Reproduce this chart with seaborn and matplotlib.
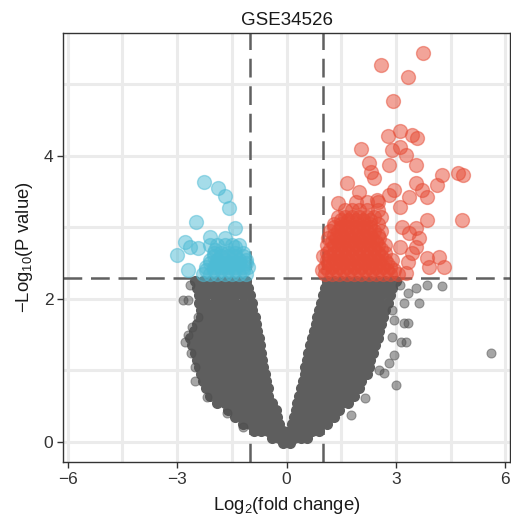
import numpy as np
import pandas as pd
import seaborn as sns
import matplotlib.pyplot as plt
from matplotlib.ticker import MultipleLocator

# --- data: log2 fold change (x) and -log10 p (y) ---
# non-significant cloud, one list of x positions per -log10(p) level
ns_levels = [-0.02, 0.05, 0.15, 0.25, 0.35, 0.45, 0.55, 0.65, 0.75, 0.85, 0.95, 1.05, 1.15,
             1.25, 1.35, 1.45, 1.55, 1.65, 1.75, 1.85, 1.95, 2.05, 2.15, 2.25]
ns_rows = [
    [-0.1, 0.1],
    [-0.4, -0.2, 0.0, 0.2, 0.4, 0.55],
    [-0.9, -0.7, -0.5, -0.3, -0.1, 0.1, 0.3, 0.5, 0.7, 0.9],
    [-1.2, -1.0, -0.8, -0.6, -0.4, -0.2, 0.15, 0.35, 0.55, 0.75, 0.95, 1.1],
    [-1.4, -1.2, -1.0, -0.8, -0.6, -0.4, -0.25, 0.2, 0.4, 0.6, 0.8, 1.0, 1.2, 1.3],
    [-1.6, -1.4, -1.2, -1.0, -0.8, -0.6, -0.4, -0.3, 0.25, 0.45, 0.65, 0.85, 1.05, 1.25, 1.45],
    [-1.9, -1.7, -1.5, -1.3, -1.1, -0.9, -0.7, -0.5, -0.4, 0.3, 0.5, 0.7, 0.9, 1.1, 1.3, 1.5, 1.7],
    [-2.1, -1.9, -1.7, -1.5, -1.3, -1.1, -0.9, -0.7, -0.5, 0.35, 0.55, 0.75, 0.95, 1.15, 1.35, 1.55, 1.75, 1.85],
    [-2.2, -2.0, -1.8, -1.6, -1.4, -1.2, -1.0, -0.8, -0.6, -0.52, 0.4, 0.6, 0.8, 1.0, 1.2, 1.4, 1.6, 1.8, 2.0],
    [-2.3, -2.1, -1.9, -1.7, -1.5, -1.3, -1.1, -0.9, -0.7, -0.56, 0.45, 0.65, 0.85, 1.05, 1.25, 1.45, 1.65, 1.85, 2.05],
    [-2.35, -2.15, -1.95, -1.75, -1.55, -1.35, -1.15, -0.95, -0.75, -0.6, 0.5, 0.7, 0.9, 1.1, 1.3, 1.5, 1.7, 1.9, 2.1, 2.2],
    [-2.4, -2.2, -2.0, -1.8, -1.6, -1.4, -1.2, -1.0, -0.8, -0.65, 0.5, 0.7, 0.9, 1.1, 1.3, 1.5, 1.7, 1.9, 2.1, 2.25],
    [-2.45, -2.25, -2.05, -1.85, -1.65, -1.45, -1.25, -1.05, -0.85, -0.68, 0.55, 0.75, 0.95, 1.15, 1.35, 1.55, 1.75, 1.95, 2.15, 2.3],
    [-2.5, -2.3, -2.1, -1.9, -1.7, -1.5, -1.3, -1.1, -0.9, -0.7, 0.6, 0.8, 1.0, 1.2, 1.4, 1.6, 1.8, 2.0, 2.2, 2.38],
    [-2.6, -2.4, -2.2, -2.0, -1.8, -1.6, -1.4, -1.2, -1.0, -0.8, -0.72, 0.65, 0.85, 1.05, 1.25, 1.45, 1.65, 1.85, 2.05, 2.25, 2.42],
    [-2.65, -2.45, -2.25, -2.05, -1.85, -1.65, -1.45, -1.25, -1.05, -0.85, -0.76, 0.7, 0.9, 1.1, 1.3, 1.5, 1.7, 1.9, 2.1, 2.3, 2.5],
    [-2.55, -2.35, -2.15, -1.95, -1.75, -1.55, -1.35, -1.15, -0.95, -0.8, 0.75, 0.95, 1.15, 1.35, 1.55, 1.75, 1.95, 2.15, 2.35, 2.55],
    [-2.45, -2.25, -2.05, -1.85, -1.65, -1.45, -1.25, -1.05, -0.85, 0.8, 1.0, 1.2, 1.4, 1.6, 1.8, 2.0, 2.2, 2.4, 2.6],
    [-2.35, -2.15, -1.95, -1.75, -1.55, -1.35, -1.15, -0.95, -0.87, 0.85, 1.05, 1.25, 1.45, 1.65, 1.85, 2.05, 2.25, 2.45, 2.65],
    [-2.35, -2.15, -1.95, -1.75, -1.55, -1.35, -1.15, -0.95, 0.9, 1.1, 1.3, 1.5, 1.7, 1.9, 2.1, 2.3, 2.5, 2.7],
    [-2.4, -2.2, -2.0, -1.8, -1.6, -1.4, -1.2, -0.95, 0.95, 1.15, 1.35, 1.55, 1.75, 1.95, 2.15, 2.35, 2.55, 2.78],
    [-2.4, -2.2, -2.0, -1.8, -1.6, -1.4, -1.2, -1.0, 1.0, 1.2, 1.4, 1.6, 1.8, 2.0, 2.2, 2.4, 2.6, 2.85],
    [-2.45, -2.25, -2.05, -1.85, -1.65, -1.45, -1.25, -1.05, 1.05, 1.25, 1.45, 1.65, 1.85, 2.05, 2.25, 2.45, 2.65, 2.9],
    [-2.5, -2.3, -2.1, -1.9, -1.7, -1.5, -1.3, -1.1, 1.1, 1.3, 1.5, 1.7, 1.9, 2.1, 2.3, 2.5, 2.7, 2.9, 3.0],
]
# scattered non-significant genes at the rim of the cloud
ns_out_x = [-2.85, -2.71, -2.66, -2.79, -2.71, -2.6, -2.52, -2.44, -2.19, -1.64, -1.2,
            3.32, 3.64, 3.23, 3.32, 3.23, 3.29, 3.15, 2.96, 2.68, 3.01, 2.14, 1.78,
            2.9, 2.96, 2.9, 2.82, 2.55, 3.84, 4.27, 5.62, 3.1, 3.55, -2.62, -2.5]
ns_out_y = [1.99, 1.99, 2.2, 1.4, 1.5, 1.61, 1.05, 1.75, 0.63, 0.41, 0.21,
            2.08, 1.94, 1.94, 1.66, 1.66, 1.4, 1.4, 1.22, 0.96, 0.8, 0.61, 0.38,
            1.85, 1.71, 1.47, 1.1, 1.0, 2.2, 2.18, 1.24, 2.2, 2.15, 1.25, 0.85]

# up-regulated genes: dense block (two staggered layers) plus scattered ones
up_levels = [2.35, 2.40, 2.45, 2.50, 2.55, 2.60, 2.65, 2.70, 2.75, 2.80, 2.85, 2.90,
             2.95, 3.00, 3.05, 3.10, 3.15, 3.25, 3.35]
up_rows = [
    [1.05, 1.25, 1.45, 1.65, 1.85, 2.05, 2.25, 2.45, 2.65, 2.85, 3.05],
    [1.15, 1.35, 1.55, 1.75, 1.95, 2.15, 2.35, 2.55, 2.75, 2.95],
    [1.05, 1.25, 1.45, 1.65, 1.85, 2.05, 2.25, 2.45, 2.65, 2.85],
    [1.15, 1.35, 1.55, 1.75, 1.95, 2.15, 2.35, 2.55, 2.75],
    [1.1, 1.3, 1.5, 1.7, 1.9, 2.1, 2.3, 2.5, 2.7, 2.9],
    [1.2, 1.4, 1.6, 1.8, 2.0, 2.2, 2.4, 2.6],
    [1.1, 1.3, 1.5, 1.7, 1.9, 2.1, 2.3, 2.5, 2.7],
    [1.2, 1.4, 1.6, 1.8, 2.0, 2.2, 2.4, 2.6],
    [1.1, 1.3, 1.5, 1.7, 1.9, 2.1, 2.3, 2.5, 2.7],
    [1.25, 1.45, 1.65, 1.85, 2.05, 2.25, 2.45],
    [1.15, 1.35, 1.55, 1.75, 1.95, 2.15, 2.35, 2.55],
    [1.3, 1.5, 1.7, 1.9, 2.1, 2.3, 2.5],
    [1.2, 1.4, 1.6, 1.8, 2.0, 2.2, 2.4, 2.6],
    [1.3, 1.5, 1.7, 1.9, 2.1, 2.3],
    [1.3, 1.5, 1.7, 1.9, 2.1, 2.3, 2.5],
    [1.5, 1.7, 1.9, 2.1, 2.3],
    [1.4, 1.6, 1.8, 2.0, 2.2, 2.4, 2.6],
    [1.6, 1.8, 2.0, 2.2, 2.5],
    [1.9, 2.2, 2.5],
]
up_x = [3.75, 2.58, 3.34, 2.93, 2.79, 3.12, 3.45, 3.59, 2.05, 2.9, 3.1, 3.29, 2.27, 2.82,
        3.56, 2.33, 1.67, 2.41, 4.27, 4.71, 4.85, 4.14, 3.56, 3.73, 3.86, 1.42, 2.96, 3.37,
        4.82, 3.86, 3.56, 3.64, 3.56, 3.86, 4.19, 4.33, 3.92, 3.32, 3.29, 2.0, 2.47, 2.82,
        3.1, 3.18, 3.1, 3.45, 3.37, 0.98, 1.0]
up_y = [5.44, 5.27, 5.11, 4.77, 4.28, 4.35, 4.29, 4.25, 4.1, 4.08, 4.13, 4.01, 3.9, 3.87,
        3.87, 3.78, 3.62, 3.69, 3.73, 3.76, 3.73, 3.59, 3.62, 3.52, 3.43, 3.34, 3.52, 3.43,
        3.1, 3.1, 2.99, 2.85, 2.73, 2.57, 2.59, 2.45, 2.45, 2.52, 2.36, 3.5, 3.38, 3.45,
        3.29, 3.0, 2.73, 2.64, 2.92, 2.4, 2.6]

# down-regulated genes
down_levels = [2.35, 2.40, 2.45, 2.50, 2.55, 2.60, 2.65, 2.75]
down_rows = [
    [-2.3, -2.1, -1.9, -1.7, -1.5, -1.3, -1.1],
    [-2.2, -2.0, -1.8, -1.6, -1.4, -1.2],
    [-2.2, -2.0, -1.8, -1.6, -1.4, -1.2, -1.05],
    [-2.1, -1.9, -1.7, -1.5, -1.3, -1.1],
    [-2.1, -1.9, -1.7, -1.5, -1.3, -1.1],
    [-2.0, -1.8, -1.6, -1.4, -1.2],
    [-2.0, -1.8, -1.6, -1.4, -1.2],
    [-2.1, -1.9, -1.7, -1.5, -1.3],
]
down_x = [-2.25, -1.89, -1.7, -1.59, -2.47, -1.42, -2.79, -2.66, -3.01, -2.11, -1.7,
          -1.42, -2.71, -2.44, -1.97]
down_y = [3.64, 3.55, 3.44, 3.27, 3.08, 2.99, 2.79, 2.73, 2.62, 2.87, 2.85,
          2.73, 2.41, 2.71, 2.69]


def rows_to_frame(levels, rows, extra_x=(), extra_y=()):
    xs, ys = list(extra_x), list(extra_y)
    for lv, row in zip(levels, rows):
        xs += row
        ys += [lv] * len(row)
    return pd.DataFrame({'logFC': xs, 'logP': ys})


ns_body = rows_to_frame(ns_levels, ns_rows)
ns_out = pd.DataFrame({'logFC': ns_out_x, 'logP': ns_out_y})
up = rows_to_frame(up_levels, up_rows, up_x, up_y)
down = rows_to_frame(down_levels, down_rows, down_x, down_y)

GREY, RED, BLUE = '#4D4D4D', '#E64B35', '#4DBBD5'

sns.set_style('white')
plt.rcParams['font.family'] = ['Liberation Sans', 'DejaVu Sans']
plt.rcParams['mathtext.fontset'] = 'custom'
plt.rcParams['mathtext.rm'] = 'Liberation Sans'
plt.rcParams['mathtext.it'] = 'Liberation Sans:italic'

fig = plt.figure(figsize=(5.11, 5.23), dpi=100)
ax = fig.add_axes([63 / 511, 61 / 523, 447 / 511, 429 / 523])

# threshold lines (under the points)
dash = (0, (7.5, 3.5))
for xv in (-1, 1):
    ax.axvline(xv, color='#606060', lw=1.8, ls=dash, zorder=1.5)
ax.axhline(2.3, color='#606060', lw=1.8, ls=dash, zorder=1.5)

# the saturated core of the grey cloud, then its lighter rim
sns.scatterplot(data=ns_body, x='logFC', y='logP', color='#5E5E5E',
                s=64, linewidth=0, alpha=1.0, ax=ax, zorder=2)
sns.scatterplot(data=ns_out, x='logFC', y='logP', color=GREY, edgecolor=GREY,
                s=42, linewidth=0.8, alpha=0.5, ax=ax, zorder=2)
sns.scatterplot(data=up, x='logFC', y='logP', color=RED, edgecolor=RED,
                s=100, linewidth=1.0, alpha=0.5, ax=ax, zorder=3)
sns.scatterplot(data=down, x='logFC', y='logP', color=BLUE, edgecolor=BLUE,
                s=100, linewidth=1.0, alpha=0.5, ax=ax, zorder=3)

ax.set_xlim(-6.13, 6.13)
ax.set_ylim(-0.28, 5.72)
ax.xaxis.set_major_locator(MultipleLocator(3))
ax.xaxis.set_minor_locator(MultipleLocator(1.5))
ax.yaxis.set_major_locator(MultipleLocator(2))
ax.yaxis.set_minor_locator(MultipleLocator(1))
ax.grid(True, which='both', color='#EBEBEB', lw=2.2, zorder=0)
ax.set_axisbelow(True)
ax.tick_params(which='major', direction='out', length=4, width=1, color='#333333',
               labelsize=12.5, labelcolor='#333333', pad=3, bottom=True, left=True)
ax.tick_params(which='minor', length=0)
for sp in ax.spines.values():
    sp.set_color('#333333')
    sp.set_linewidth(1.0)

ax.set_title('GSE34526', fontsize=13.5, pad=6, color='#1a1a1a')
ax.set_xlabel('Log$_2$(fold change)', fontsize=13.3, color='#1a1a1a', labelpad=6)
ax.set_ylabel('\u2212Log$_{10}$(P value)', fontsize=13.3, color='#1a1a1a', labelpad=6)

fig.savefig('out.png', dpi=100)
